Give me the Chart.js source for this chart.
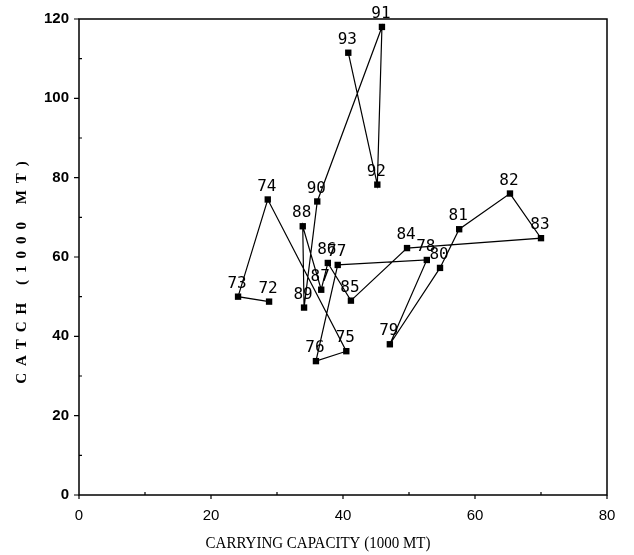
<!DOCTYPE html>
<html><head><meta charset="utf-8">
<script src="https://cdn.jsdelivr.net/npm/chart.js@4"></script>
<style>html,body{margin:0;padding:0;background:#fff}</style>
</head><body>
<canvas id="c" width="634" height="555"></canvas>
<script>
// Year labels (19xx) in chronological order
const years = ['72','73','74','75','76','77','78','79','80','81','82','83','84','85','86','87','88','89','90','91','92','93'];
// Carrying capacity (1000 MT)
const capacity = [28.8,24.1,28.6,40.5,35.9,39.2,52.7,47.1,54.7,57.6,65.3,70.0,49.7,41.2,37.7,36.7,33.9,34.1,36.1,45.9,45.2,40.8];
// Catch (1000 MT)
const catchVals = [48.75,50.0,74.5,36.25,33.75,58.0,59.25,38.0,57.25,67.0,76.0,64.75,62.25,49.0,58.5,51.75,67.75,47.25,74.0,118.0,78.25,111.5];
const xTickVals = [0,20,40,60,80];
const yTickVals = [0,20,40,60,80,100,120];
const xTitle = 'CARRYING CAPACITY (1000 MT)';
const yTitle = 'CATCH (1000 MT)';

const points = capacity.map((x,i)=>({x:x,y:catchVals[i]}));

const decor = {
  id:'decor',
  afterDraw(chart){
    const ctx = chart.ctx, ca = chart.chartArea;
    const xs = chart.scales.x, ys = chart.scales.y;
    ctx.save();
    ctx.strokeStyle = '#000';
    ctx.lineWidth = 1.5;
    ctx.strokeRect(ca.left, ca.top, ca.right-ca.left, ca.bottom-ca.top);
    ctx.lineWidth = 1.2;
    ctx.beginPath();
    for (let v=0; v<=120; v+=10){
      const y = ys.getPixelForValue(v);
      if (v % 20 === 0){ ctx.moveTo(ca.left-5,y); ctx.lineTo(ca.left,y); }
      else { ctx.moveTo(ca.left,y); ctx.lineTo(ca.left+3,y); }
    }
    for (let v=0; v<=80; v+=10){
      const x = xs.getPixelForValue(v);
      if (v % 20 === 0){ ctx.moveTo(x,ca.bottom); ctx.lineTo(x,ca.bottom+4); }
      else { ctx.moveTo(x,ca.bottom); ctx.lineTo(x,ca.bottom-3); }
    }
    ctx.stroke();
    // point labels
    const meta = chart.getDatasetMeta(0);
    ctx.fillStyle = '#000';
    ctx.font = '16px "DejaVu Sans Mono"';
    ctx.textAlign = 'center';
    ctx.textBaseline = 'bottom';
    meta.data.forEach((pt,i)=>{
      ctx.fillText(years[i], pt.x-1, pt.y-5);
    });
    // axis titles
    ctx.font = '15px "Liberation Serif"';
    ctx.textBaseline = 'middle';
    ctx.save();
    ctx.translate(318, 544);
    ctx.scale(1.0,1.1);
    ctx.fillText(xTitle, 0, 0);
    ctx.restore();
    ctx.save();
    ctx.translate(22, 272);
    ctx.rotate(-Math.PI/2);
    ctx.font = 'bold 15px "Liberation Serif"';
    ctx.letterSpacing = '7px';
    ctx.fillText(yTitle, 3, 0);
    ctx.restore();
    ctx.restore();
  }
};

new Chart(document.getElementById('c'), {
  type:'scatter',
  data:{datasets:[{
    data:points,
    showLine:true,
    borderColor:'#000',
    borderWidth:1.2,
    backgroundColor:'#000',
    pointStyle:'rect',
    pointRadius:4.5,
    pointBorderWidth:0,
    tension:0
  }]},
  options:{
    responsive:false,
    animation:false,
    layout:{padding:{top:15,right:27,left:0,bottom:0}},
    plugins:{legend:{display:false},tooltip:{enabled:false}},
    scales:{
      x:{type:'linear',min:0,max:80,
        afterFit(s){ s.height = 60; },
        afterBuildTicks(s){ s.ticks = xTickVals.map(v=>({value:v})); },
        grid:{display:false,drawTicks:false},
        border:{display:false},
        ticks:{padding:12,color:'#000',font:{family:'Liberation Sans',size:15},maxRotation:0}
      },
      y:{type:'linear',min:0,max:120,
        afterFit(s){ s.width = 79; },
        afterBuildTicks(s){ s.ticks = yTickVals.map(v=>({value:v})); },
        grid:{display:false,drawTicks:false},
        border:{display:false},
        ticks:{padding:10,color:'#000',font:{family:'Liberation Sans',size:15,weight:'bold'}}
      }
    }
  },
  plugins:[decor]
});
</script>
</body></html>
